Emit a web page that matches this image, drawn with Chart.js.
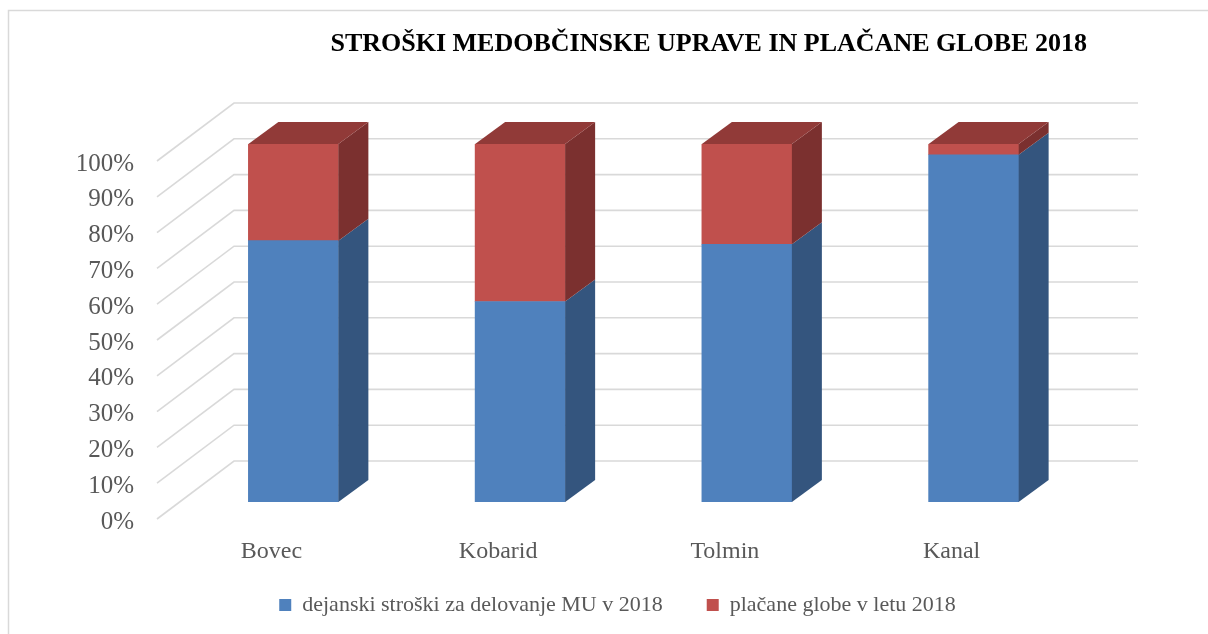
<!DOCTYPE html>
<html>
<head>
<meta charset="utf-8">
<script src="https://cdn.jsdelivr.net/npm/chart.js@4.4.1/dist/chart.umd.min.js"></script>
<style>
  html, body { margin: 0; padding: 0; background: #ffffff; }
  #wrap { width: 1208px; height: 634px; position: relative; }
  canvas { display: block; }
</style>
</head>
<body>
<div id="wrap"><canvas id="c" width="1208" height="634"></canvas></div>
<script>
// ---- data ----
const categories = ['Bovec', 'Kobarid', 'Tolmin', 'Kanal'];
const actualCosts = [73, 56, 72, 97];   // dejanski stroški (%)
const paidFines = [27, 44, 28, 3];      // plačane globe (%)
const tickValues = [0, 10, 20, 30, 40, 50, 60, 70, 80, 90, 100];
const seriesNames = ['dejanski stroški za delovanje MU v 2018', 'plačane globe v letu 2018'];
const chartTitle = 'STROŠKI MEDOBČINSKE UPRAVE IN PLAČANE GLOBE 2018';

// ---- styles ----
const SERIF = "'Liberation Serif', 'DejaVu Serif', serif";
const faces = [
  { front: '#4F81BD', side: '#34557E', top: '#41699A' },
  { front: '#C0504D', side: '#7B302F', top: '#913A38' }
];
const DEPTH = { dx: 30, dy: -22 };
const WALL = { frontDx: -23, frontDy: 17, backDx: 54, backDy: -41, rightDx: 51 };

const threeD = {
  id: 'threeD',
  beforeDraw(chart) {
    const ctx = chart.ctx;
    ctx.save();
    ctx.fillStyle = '#ffffff';
    ctx.fillRect(0, 0, chart.width, chart.height);
    ctx.strokeStyle = '#d9d9d9';
    ctx.lineWidth = 1.5;
    ctx.strokeRect(8.5, 10.5, 1400, 800);
    ctx.restore();
  },
  beforeDatasetsDraw(chart) {
    const ctx = chart.ctx;
    const a = chart.chartArea;
    const ys = chart.scales.y;
    ctx.save();
    ctx.strokeStyle = '#d9d9d9';
    ctx.lineWidth = 1.6;
    ys.ticks.forEach(t => {
      const y = ys.getPixelForValue(t.value);
      ctx.beginPath();
      ctx.moveTo(a.left + WALL.frontDx, y + WALL.frontDy);
      ctx.lineTo(a.left + WALL.backDx, y + WALL.backDy);
      ctx.lineTo(a.right + WALL.rightDx, y + WALL.backDy);
      ctx.stroke();
    });
    ctx.restore();
  },
  afterDatasetsDraw(chart) {
    const ctx = chart.ctx;
    ctx.save();
    const n = chart.data.labels.length;
    for (let j = 0; j < n; j++) {
      let topEl = null, topDs = 0;
      chart.data.datasets.forEach((ds, i) => {
        const el = chart.getDatasetMeta(i).data[j];
        const top = Math.min(el.y, el.base), bot = Math.max(el.y, el.base);
        const right = el.x + el.width / 2;
        ctx.fillStyle = faces[i].side;
        ctx.beginPath();
        ctx.moveTo(right, top);
        ctx.lineTo(right + DEPTH.dx, top + DEPTH.dy);
        ctx.lineTo(right + DEPTH.dx, bot + DEPTH.dy);
        ctx.lineTo(right, bot);
        ctx.closePath();
        ctx.fill();
        if (ds.data[j] > 0) { topEl = el; topDs = i; }
      });
      if (topEl) {
        const top = Math.min(topEl.y, topEl.base);
        const left = topEl.x - topEl.width / 2, right = topEl.x + topEl.width / 2;
        ctx.fillStyle = faces[topDs].top;
        ctx.beginPath();
        ctx.moveTo(left, top);
        ctx.lineTo(left + DEPTH.dx, top + DEPTH.dy);
        ctx.lineTo(right + DEPTH.dx, top + DEPTH.dy);
        ctx.lineTo(right, top);
        ctx.closePath();
        ctx.fill();
      }
    }
    ctx.restore();
  }
};

new Chart(document.getElementById('c'), {
  type: 'bar',
  data: {
    labels: categories,
    datasets: [
      { label: seriesNames[0], data: actualCosts, backgroundColor: faces[0].front, borderWidth: 0, barThickness: 90 },
      { label: seriesNames[1], data: paidFines, backgroundColor: faces[1].front, borderWidth: 0, barThickness: 90 }
    ]
  },
  options: {
    responsive: false,
    animation: false,
    devicePixelRatio: 1,
    layout: { padding: { left: 148, right: 121, top: 0, bottom: 8 } },
    plugins: {
      title: {
        display: true,
        text: chartTitle,
        align: 'end',
        color: '#000000',
        font: { family: SERIF, size: 26, weight: 'bold' },
        padding: { top: 29, bottom: 83.8 }
      },
      legend: {
        position: 'bottom',
        labels: {
          boxWidth: 12, boxHeight: 12, padding: 44,
          color: '#595959',
          font: { family: SERIF, size: 22 }
        }
      },
      tooltip: { enabled: false }
    },
    scales: {
      x: {
        stacked: true,
        grid: { display: false, drawTicks: false },
        border: { display: false },
        ticks: { color: '#595959', font: { family: SERIF, size: 24 }, mirror: true, padding: -64, labelOffset: -22, maxRotation: 0, autoSkip: false },
        afterFit(scale) { scale.height = 48; }
      },
      y: {
        stacked: true,
        min: 0, max: 100,
        grid: { display: false, drawTicks: false },
        border: { display: false },
        afterBuildTicks(scale) { scale.ticks = tickValues.map(v => ({ value: v })); },
        ticks: { color: '#595959', font: { family: SERIF, size: 25 }, mirror: true, crossAlign: 'far', padding: -104.3, labelOffset: 20, autoSkip: false, callback: v => v + '%' },
        afterFit(scale) { scale.width = 32; }
      }
    }
  },
  plugins: [threeD]
});
</script>
</body>
</html>
